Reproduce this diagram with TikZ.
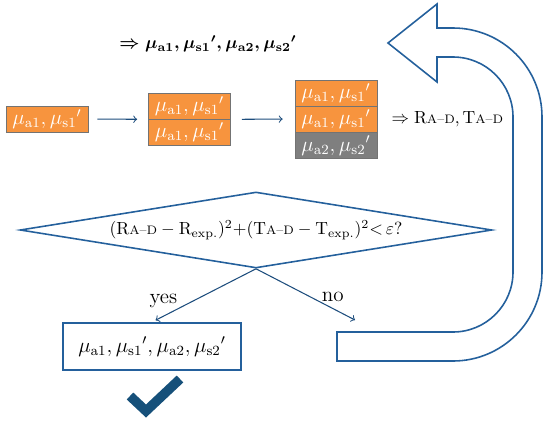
\documentclass[tikz,border=0pt]{standalone}
\usepackage{amsmath}
\usepackage{amssymb}
\usepackage{tikz}
\usetikzlibrary{positioning,shapes.geometric}
\def\cellw{1.64cm}
\def\cellh{0.52cm}

\definecolor{cellorange}{RGB}{247,148,62}
\definecolor{cellgray}{RGB}{127,127,127}
\definecolor{flowblue}{RGB}{36,96,156}
\definecolor{checkblue}{RGB}{22,80,122}

\begin{document}
\begin{tikzpicture}[x=0.02cm,y=-0.02cm]
		\tikzstyle{cell}=[rectangle,draw=black!55,fill=cellorange,text=white,minimum width=\cellw,minimum height=\cellh,inner sep=0pt,font=\fontsize{11.5}{12}\selectfont]
		\tikzstyle{gray cell}=[cell, fill=cellgray];
		\tikzstyle{flow}=[->,draw=flowblue!80!black,line width=0.6pt];
		\tikzstyle{decision}=[diamond,draw=flowblue,line width=0.9pt,minimum width=9.44cm,minimum height=1.52cm,aspect=6.2,inner sep=0pt,font=\normalsize];
		\tikzstyle{result}=[rectangle,draw=flowblue,line width=1.1pt,minimum width=3.56cm,minimum height=0.94cm,font=\large];
		\tikzstyle{uturn}=[draw=flowblue,line width=0.9pt,line join=miter];
		\tikzstyle{check}=[draw=checkblue,line width=0.19cm,line join=miter];
		\useasboundingbox (0,0) rectangle (550,423);
		
		% Draw the estimated parameters on top
		\node[font=\boldmath] (est) at (208,44) {$\Rightarrow \mu_{\mathrm{a1}}, \mu_{\mathrm{s1}}{}', \mu_{\mathrm{a2}}, \mu_{\mathrm{s2}}{}'$};
		
		% Draw the single layer
		\node[cell] (B1) at (47,119) {$\mu_{\mathrm{a1}}, \mu_{\mathrm{s1}}{}'$};
		
		% Draw the two layers
		\foreach \y in {1,2}
		\node[cell] (B2-\y) at (189.5,80+26*\y) {$\mu_{\mathrm{a1}}, \mu_{\mathrm{s1}}{}'$};
		
		% Draw the three layers
		\foreach \y in {1,2}
		\node[cell] (B3-\y) at (336,67+26*\y) {$\mu_{\mathrm{a1}}, \mu_{\mathrm{s1}}{}'$};
		\node[gray cell, below=0pt of B3-2] (B3-3) {$\mu_{\mathrm{a2}}, \mu_{\mathrm{s2}}{}'$};
		
		% Result of the forward model
		\node[right=0.16cm of B3-2] (RT) {$\Rightarrow \mathrm{R}\text{\scriptsize A--D}, \mathrm{T}\text{\scriptsize A--D}$};
		
		% Connect the layers
		\draw[flow, shorten <=0.18cm, shorten >=0.22cm] (B1.east) -- (B2-1.south west);
		\draw[flow, shorten <=0.22cm, shorten >=0.24cm] (B2-1.south east) -- (B3-2.west);
		
		% Draw the test
		\node[decision] (dec) at (256,230) {$(\mathrm{R}\text{\scriptsize A--D} - \mathrm{R}_{\mathrm{exp.}})^{2}{+}(\mathrm{T}\text{\scriptsize A--D} - \mathrm{T}_{\mathrm{exp.}})^{2}{<}\,\varepsilon?$\hspace{0.4cm}};
		
		% Draw the final result
		\node[result] (res) at (152,346.5) {$\mu_{\mathrm{a1}}, \mu_{\mathrm{s1}}{}', \mu_{\mathrm{a2}}, \mu_{\mathrm{s2}}{}'$};
		\coordinate (noend) at (355,320);
		
		% Connect the test with both answers
		\draw[flow, shorten >=0.08cm] (dec.south) -- node[pos=0.6, left=0.2cm, font=\large] {yes} (res.north);
		\draw[flow] (dec.south) -- node[pos=0.55, right=0.1cm, font=\large] {no} (noend);
		
		% Draw the loop back arrow
		\draw[uturn] (388,43) -- (437,4) -- (437,28) -- (453,28)
			.. controls (502.2,28) and (542,67.8) .. (542,117) -- (542,272)
			.. controls (542,321.2) and (502.2,361) .. (453,361) -- (337,361)
			-- (337,332) -- (453,332)
			.. controls (486.1,332) and (513,305.1) .. (513,272) -- (513,117)
			.. controls (513,83.9) and (486.1,57) .. (453,57) -- (437,57)
			-- (437,82) -- cycle;
		
		% Draw the check mark
		\draw[check] (130,396) -- (146,411) -- (180,379);
	\end{tikzpicture}
\end{document}
